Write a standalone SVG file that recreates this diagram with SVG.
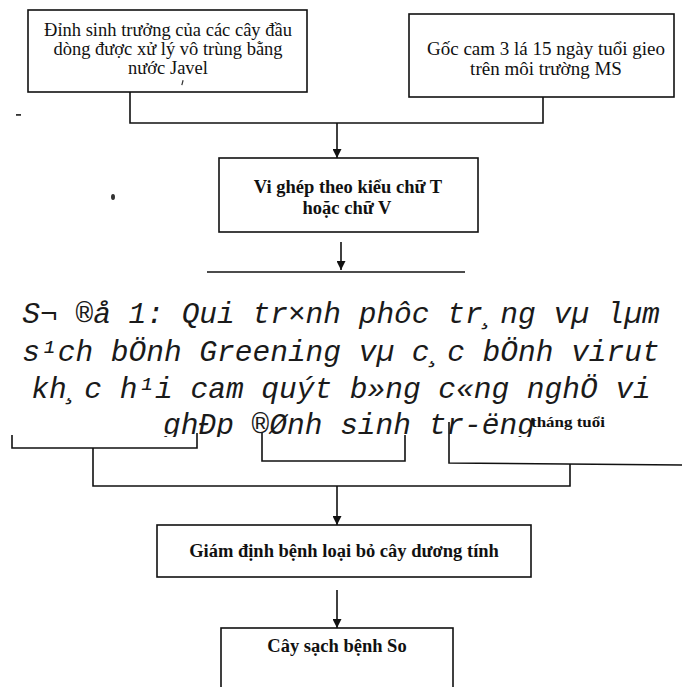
<svg xmlns="http://www.w3.org/2000/svg" width="682" height="687" viewBox="0 0 682 687">
<style>
  .box { fill: #fff; stroke: #111; stroke-width: 1.6; }
  .ln { fill: none; stroke: #111; stroke-width: 1.6; }
  .t { font-family: "Liberation Serif", "Times New Roman", serif; font-size: 18.5px; fill: #111; text-anchor: middle; }
  .b { font-weight: bold; }
  .m { font-family: "Liberation Mono", "Courier New", monospace; font-style: italic; font-size: 29.5px; fill: #1a1a1a; text-anchor: middle; }
</style>
<defs>
  <marker id="arr" viewBox="0 0 10 10" refX="10" refY="5" markerWidth="9" markerHeight="9" markerUnits="userSpaceOnUse" orient="auto">
    <path d="M0,0 L10,5 L0,10 z" fill="#111"/>
  </marker>
  <clipPath id="cut"><rect x="0" y="400" width="682" height="37"/></clipPath>
</defs>
<rect width="682" height="687" fill="#fff"/>

<g id="connectors">
  <path class="ln" d="M130 92 V123 H543 V97"/>
  <path class="ln" d="M337 123 V158" marker-end="url(#arr)"/>
  <path class="ln" d="M341 242 V270" marker-end="url(#arr)"/>
  <path class="ln" d="M207 272 H465"/>
  <path class="ln" d="M12 435 V448 H197 V433"/>
  <path class="ln" d="M262 433 V461 H405 V435"/>
  <path class="ln" d="M449 422 V463 L682 465"/>
  <path class="ln" d="M93 448 V486 H570 V464"/>
  <path class="ln" d="M337 486 V525" marker-end="url(#arr)"/>
  <path class="ln" d="M337 590 V628" marker-end="url(#arr)"/>
</g>

<g id="node-dinh-sinh-truong">
  <rect class="box" x="28" y="10" width="279" height="82"/>
  <text class="t" x="168" y="36">Đỉnh sinh trưởng của các cây đầu</text>
  <text class="t" x="168" y="55">dòng được xử lý vô trùng bằng</text>
  <text class="t" x="168" y="74">nước Javel</text>
</g>

<g id="node-goc-cam">
  <rect class="box" x="409" y="14" width="265" height="83"/>
  <text class="t" x="546" y="55" style="font-size:19px">Gốc cam 3 lá 15 ngày tuổi gieo</text>
  <text class="t" x="546" y="75" style="font-size:19px">trên môi trường MS</text>
</g>

<g id="node-vi-ghep">
  <rect class="box" x="219" y="158" width="259" height="74"/>
  <text class="t b" x="348" y="193">Vi ghép theo kiểu chữ T</text>
  <text class="t b" x="347" y="214">hoặc chữ V</text>
</g>

<g id="caption">
  <text class="m" x="341" y="323">S¬ ®å 1: Qui tr×nh phôc tr¸ng vµ lµm</text>
  <text class="m" x="341" y="360.5">s¹ch bÖnh Greening vµ c¸c bÖnh virut</text>
  <text class="m" x="341" y="398">kh¸c h¹i cam quýt b»ng c«ng nghÖ vi</text>
  <text class="m" x="349" y="434" clip-path="url(#cut)">ghÐp ®Ønh sinh tr-ëng</text>
</g>

<g id="label-thang-tuoi">
  <text class="t b" x="531" y="427" style="text-anchor:start;font-size:15.5px" textLength="74" lengthAdjust="spacingAndGlyphs">tháng tuổi</text>
</g>

<g id="node-giam-dinh">
  <rect class="box" x="157" y="525" width="374" height="52"/>
  <text class="t b" x="344" y="557">Giám định bệnh loại bỏ cây dương tính</text>
</g>

<g id="node-cay-sach">
  <rect class="box" x="221" y="628" width="232" height="75"/>
  <text class="t b" x="337" y="652">Cây sạch bệnh So</text>
</g>

<g id="specks" fill="#333">
  <rect x="16" y="114" width="5" height="1.8"/>
  <ellipse cx="113" cy="197" rx="2" ry="3"/>
  <rect x="182" y="80" width="1.2" height="5" transform="rotate(15 182 82)"/>
</g>
</svg>
